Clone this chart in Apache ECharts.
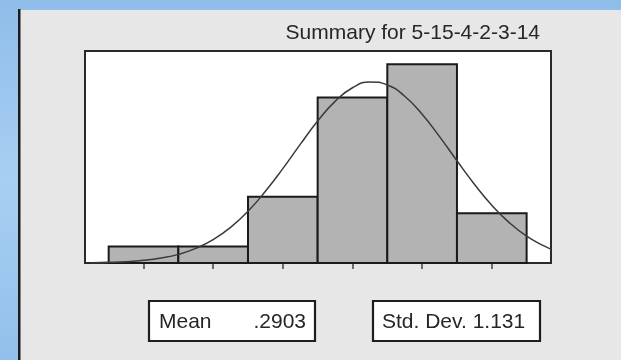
<!DOCTYPE html>
<html>
<head>
<meta charset="utf-8">
<script src="https://cdn.jsdelivr.net/npm/echarts@6/dist/echarts.min.js"></script>
<style>
html,body{margin:0;padding:0;background:#9cc5ec;}
#chart{width:621px;height:360px;}
</style>
</head>
<body>
<div id="chart"></div>
<script>
// Histogram bins (bin centers) and counts
const binCenters = [-3, -2, -1, 0, 1, 2];
const binCounts = [1, 1, 4, 10, 12, 3];
// Fitted normal curve (x value, expected count)
const curveX = [-3.75, -3.5, -3.25, -3, -2.75, -2.5, -2.25, -2, -1.75, -1.5, -1.25, -1, -0.75, -0.5, -0.25, 0, 0.25, 0.5, 0.75, 1, 1.25, 1.5, 1.75, 2, 2.25, 2.5, 2.75, 2.85];
const curveY = [0.02, 0.04, 0.08, 0.16, 0.30, 0.52, 0.88, 1.41, 2.15, 3.12, 4.33, 5.70, 7.16, 8.57, 9.76, 10.58, 10.93, 10.75, 10.07, 8.98, 7.63, 6.17, 4.76, 3.49, 2.44, 1.62, 1.03, 0.84];
const tickValues = [-3, -2, -1, 0, 1, 2];
const titleText = 'Summary for 5-15-4-2-3-14';
const meanLabel = 'Mean';
const meanValue = '.2903';
const sdText = 'Std. Dev. 1.131';

const FONT = "'Liberation Sans', Arial, Helvetica, sans-serif";
const chart = echarts.init(document.getElementById('chart'), null, {renderer: 'canvas'});

const barData = binCenters.map((c, i) => [c, binCounts[i]]);
const curveData = curveX.map((x, i) => [x, curveY[i]]);

chart.setOption({
  animation: false,
  backgroundColor: 'transparent',
  title: {
    text: titleText,
    right: 81,
    top: 23,
    padding: 0,
    textStyle: {fontFamily: FONT, fontSize: 21, fontWeight: 'normal', color: '#262626'}
  },
  graphic: [
    {type: 'rect', z: -10, silent: true, shape: {x: 0, y: 0, width: 621, height: 360},
      style: {fill: new echarts.graphic.LinearGradient(0, 0, 0, 1, [{offset: 0, color: '#8fbde9'}, {offset: 0.5, color: '#a7cff2'}, {offset: 1, color: '#92c0ea'}])}},
    {type: 'rect', z: -9, silent: true, shape: {x: 20, y: 10, width: 601, height: 350}, style: {fill: '#e7e7e7'}},
    {type: 'rect', z: -8, silent: true, shape: {x: 18, y: 9, width: 2.5, height: 351}, style: {fill: '#1c1c1c'}},
    {type: 'rect', z: 5, silent: true, shape: {x: 149, y: 301, width: 166, height: 40},
      style: {fill: '#ffffff', stroke: '#1e1e1e', lineWidth: 2.2}},
    {type: 'text', z: 6, silent: true, x: 159, y: 322,
      style: {text: meanLabel, font: '21px ' + FONT, fill: '#262626', textAlign: 'left', textVerticalAlign: 'middle'}},
    {type: 'text', z: 6, silent: true, x: 306, y: 322,
      style: {text: meanValue, font: '21px ' + FONT, fill: '#262626', textAlign: 'right', textVerticalAlign: 'middle'}},
    {type: 'rect', z: 5, silent: true, shape: {x: 373, y: 301, width: 167, height: 40},
      style: {fill: '#ffffff', stroke: '#1e1e1e', lineWidth: 2.2}},
    {type: 'text', z: 6, silent: true, x: 382, y: 322,
      style: {text: sdText, font: '21px ' + FONT, fill: '#262626', textAlign: 'left', textVerticalAlign: 'middle'}}
  ],
  grid: {
    left: 85, top: 51, width: 466, height: 212,
    show: true, backgroundColor: '#ffffff', borderColor: '#2a2a2a', borderWidth: 2
  },
  xAxis: {
    type: 'value', min: -3.84, max: 2.85,
    axisLine: {show: false},
    splitLine: {show: false},
    axisLabel: {show: false},
    axisTick: {show: true, customValues: tickValues, length: 6, lineStyle: {color: '#444', width: 1.5}}
  },
  yAxis: {
    type: 'value', min: 0, max: 12.8, show: false,
    splitLine: {show: false}
  },
  series: [
    {
      type: 'custom',
      z: 2,
      data: barData,
      renderItem: function (params, api) {
        const c = api.value(0), n = api.value(1);
        const p0 = api.coord([c - 0.5, n]);
        const p1 = api.coord([c + 0.5, 0]);
        return {
          type: 'rect',
          shape: {x: p0[0], y: p0[1], width: p1[0] - p0[0], height: p1[1] - p0[1]},
          style: {fill: '#b3b3b3', stroke: '#1a1a1a', lineWidth: 2}
        };
      }
    },
    {
      type: 'line',
      z: 3,
      data: curveData,
      smooth: true,
      showSymbol: false,
      clip: true,
      lineStyle: {color: '#3a3a3a', width: 1.5}
    }
  ]
});
</script>
</body>
</html>
